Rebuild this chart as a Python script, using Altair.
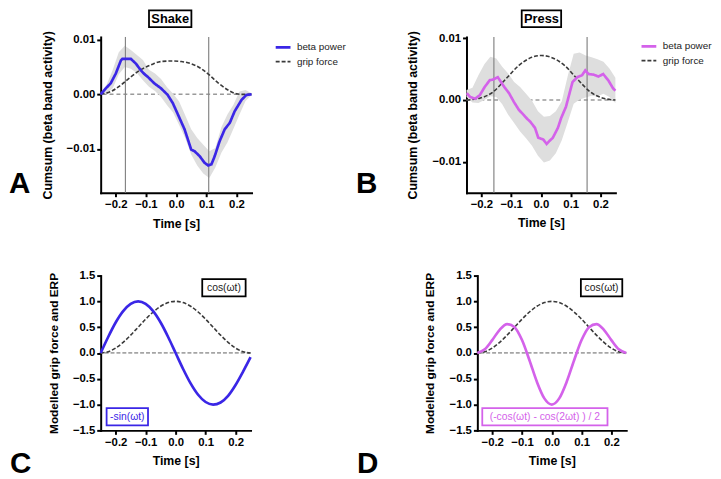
import altair as alt
import pandas as pd

FONT = "Liberation Sans"
BLUE = "#3a26e6"
PURPLE = "#d462ea"
BAND = "#dedede"
GRIP = "#3a3a3a"

# ---------------- Panel A (Shake) ----------------
a_beta_t = [-0.25, -0.233, -0.217, -0.2, -0.183, -0.178, -0.15, -0.133, -0.117, -0.105, -0.094,
            -0.072, -0.05, -0.028, -0.011, 0.011, 0.028, 0.05, 0.061, 0.078, 0.094, 0.106,
            0.117, 0.128, 0.144, 0.161, 0.178, 0.194, 0.217, 0.233, 0.25]
a_beta_v = [0.0, 0.0011, 0.002, 0.0038, 0.0062, 0.0065, 0.0065, 0.0056, 0.0044, 0.0037, 0.0032,
            0.002, 0.0011, -0.0001, -0.0016, -0.0043, -0.0064, -0.0101, -0.0104, -0.0113, -0.0125, -0.013,
            -0.0128, -0.0113, -0.0086, -0.0064, -0.0052, -0.0031, -0.001, -0.0001, 0.0]
a_grip_t = [-0.25, -0.217, -0.183, -0.15, -0.117, -0.083, -0.05, -0.017, 0.017, 0.05, 0.083,
            0.111, 0.139, 0.172, 0.2, 0.217, 0.25]
a_grip_v = [0.0, 0.0005, 0.0017, 0.0032, 0.0045, 0.0054, 0.006, 0.0061, 0.006, 0.0056, 0.0047,
            0.0035, 0.0021, 0.0008, 0.0001, 0.0, 0.0]
band_t = [-0.25, -0.23, -0.21, -0.19, -0.17, -0.15, -0.13, -0.11, -0.09, -0.07, -0.05, -0.03, -0.01,
          0.01, 0.03, 0.05, 0.07, 0.09, 0.11, 0.13, 0.15, 0.17, 0.19, 0.21, 0.23, 0.25]
a_band_hi = [0.0002, 0.0018, 0.0045, 0.0077, 0.0089, 0.0081, 0.0072, 0.0063, 0.0045, 0.0038, 0.0028,
             0.0013, 0.0001, -0.0013, -0.0038, -0.0064, -0.008, -0.0092, -0.0104, -0.0098, -0.006,
             -0.0037, -0.0019, 0.0005, 0.0008, 0.0002]
a_band_lo = [-0.0001, 0.0002, 0.0011, 0.0037, 0.005, 0.0047, 0.0039, 0.0026, 0.0014, 0.0006, -0.0005,
             -0.002, -0.0033, -0.0056, -0.008, -0.011, -0.013, -0.0145, -0.0153, -0.0134, -0.0107,
             -0.0088, -0.0063, -0.0037, -0.0012, -0.0001]
a_markers = [-0.168, 0.108]

# ---------------- Panel B (Press) ----------------
b_beta_t = [-0.249, -0.238, -0.221, -0.205, -0.189, -0.172, -0.161, -0.145, -0.134, -0.123, -0.107,
            -0.091, -0.074, -0.058, -0.047, -0.036, -0.02, -0.009, 0.008, 0.019, 0.029, 0.04, 0.057,
            0.068, 0.084, 0.106, 0.122, 0.138, 0.149, 0.16, 0.177, 0.193, 0.209, 0.226, 0.242, 0.25]
b_beta_v = [0.0011, 0.0005, 0.0002, 0.0008, 0.0021, 0.0032, 0.0033, 0.0037, 0.0029, 0.0021, 0.0011,
            -0.0003, -0.0016, -0.0024, -0.003, -0.0035, -0.0045, -0.0061, -0.0064, -0.0071, -0.0066,
            -0.0061, -0.0045, -0.0029, -0.0011, 0.0029, 0.0037, 0.004, 0.0048, 0.0042, 0.0041, 0.0038,
            0.0042, 0.0032, 0.0019, 0.0015]
b_grip_t = [-0.25, -0.205, -0.161, -0.118, -0.074, -0.031, 0.002, 0.035, 0.079, 0.122, 0.166, 0.209, 0.25]
b_grip_v = [0.0, 0.0003, 0.0013, 0.0034, 0.0056, 0.0069, 0.0072, 0.0069, 0.0056, 0.0034, 0.0013, 0.0003, 0.0]
b_band_hi = [0.0016, 0.002, 0.004, 0.0058, 0.007, 0.0067, 0.0054, 0.0043, 0.0029, 0.0021, 0.001,
             -0.0001, -0.0018, -0.0027, -0.0026, -0.0018, -0.0002, 0.0039, 0.0075, 0.0077, 0.0072,
             0.0069, 0.0066, 0.0062, 0.0051, 0.0036]
b_band_lo = [0.0005, -0.0004, -0.0005, 0.0, 0.0006, 0.0005, -0.0007, -0.0024, -0.0037, -0.0051, -0.0062,
             -0.0074, -0.009, -0.0101, -0.0098, -0.0086, -0.0065, -0.0036, -0.0006, 0.0001, 0.0004,
             0.0007, 0.0006, 0.001, 0.0005, -0.0005]
b_markers = [-0.158, 0.155]

# ---------------- Panels C and D (models) ----------------
model_t = [-0.25, -0.225, -0.2, -0.175, -0.15, -0.125, -0.1, -0.075, -0.05, -0.025, 0.0,
           0.025, 0.05, 0.075, 0.1, 0.125, 0.15, 0.175, 0.2, 0.225, 0.25]
model_grip = [0.0, 0.024, 0.095, 0.206, 0.345, 0.5, 0.655, 0.794, 0.905, 0.976, 1.0,
              0.976, 0.905, 0.794, 0.655, 0.5, 0.345, 0.206, 0.095, 0.024, 0.0]
c_erp = [0.0, 0.31, 0.59, 0.81, 0.95, 1.0, 0.95, 0.81, 0.59, 0.31, 0.0,
         -0.31, -0.59, -0.81, -0.95, -1.0, -0.96, -0.83, -0.62, -0.36, -0.08]
d_erp = [0.0, 0.071, 0.25, 0.449, 0.559, 0.5, 0.25, -0.14, -0.559, -0.88, -1.0,
         -0.88, -0.559, -0.14, 0.25, 0.5, 0.559, 0.449, 0.25, 0.071, 0.0]

zero_level = [0.0]
x_ticks = [-0.2, -0.1, 0.0, 0.1, 0.2]
one = pd.DataFrame({"k": [0]})


def x_enc(w, ty):
    return alt.X("t:Q", scale=alt.Scale(domain=[-0.25, 0.25], nice=False, zero=False),
                 axis=alt.Axis(values=x_ticks, format=".1f", title="Time [s]", labelFlush=False,
                               titleX=w / 2, titleY=ty, titleBaseline="middle", titleFontSize=12.5))


def y_enc(field, domain, ticks, fmt, title, tx, ty, tsize):
    return alt.Y(field, scale=alt.Scale(domain=domain, nice=False, zero=False),
                 axis=alt.Axis(values=ticks, format=fmt, title=title, titleX=tx, titleY=ty,
                               titleAngle=270, titleBaseline="middle", titleAlign="center",
                               titleFontSize=tsize, labelFlush=False))


def box(x1, x2, y1, y2, color):
    return alt.Chart(one).mark_rect(fill="white", stroke=color, strokeWidth=1.8).encode(
        x=alt.value(x1), x2=alt.value(x2), y=alt.value(y1), y2=alt.value(y2))


def label(txt, x, y, size, color="black", weight="bold", align="center", baseline="middle"):
    return alt.Chart(one).mark_text(text=txt, font=FONT, fontSize=size, fontWeight=weight,
                                    color=color, align=align, baseline=baseline).encode(
        x=alt.value(x), y=alt.value(y))


def data_panel(beta_t, beta_v, grip_t, grip_v, hi, lo, markers, color, domain, w, h,
               ytx, xty, title, tbx1, tbx2, letter, lx, lgx, lgy):
    X = x_enc(w, xty)
    Y = y_enc("v:Q", domain, [-0.01, 0.0, 0.01], ".2f", "Cumsum (beta band activity)", ytx, h / 2, 12.5)
    Ylo = y_enc("lo:Q", domain, [-0.01, 0.0, 0.01], ".2f", "Cumsum (beta band activity)", ytx, h / 2, 12.5)
    names = ["beta power", "grip force"]
    leg = alt.Legend(orient="none", legendX=lgx, legendY=lgy, title=None, labelFont=FONT,
                     labelFontSize=10, labelColor="#222", symbolType="stroke", symbolSize=225,
                     symbolStrokeWidth=2, labelOffset=5, rowPadding=0, padding=0)
    col = alt.Color("series:N", scale=alt.Scale(domain=names, range=[color, GRIP]), legend=leg)
    dash = alt.StrokeDash("series:N", scale=alt.Scale(domain=names, range=[[1, 0], [4, 2]]), legend=leg)
    sw = alt.StrokeWidth("series:N", scale=alt.Scale(domain=names, range=[2.7, 1.6]), legend=None)

    zero = alt.Chart(pd.DataFrame({"v": zero_level})).mark_rule(
        color="#9a9a9a", strokeDash=[4, 3], strokeWidth=1.5).encode(y=Y)
    band = alt.Chart(pd.DataFrame({"t": band_t, "lo": lo, "hi": hi})).mark_area(
        color=BAND, opacity=1).encode(x=X, y=Ylo, y2="hi:Q")
    marks = alt.Chart(pd.DataFrame({"t": markers})).mark_rule(
        color="#858585", strokeWidth=1.2).encode(x=X)
    grip = alt.Chart(pd.DataFrame({"t": grip_t, "v": grip_v, "series": "grip force"})).mark_line(
        interpolate="monotone").encode(x=X, y=Y, color=col, strokeDash=dash, strokeWidth=sw)
    beta = alt.Chart(pd.DataFrame({"t": beta_t, "v": beta_v, "series": "beta power"})).mark_line().encode(
        x=X, y=Y, color=col, strokeDash=dash, strokeWidth=sw)
    tb = box(tbx1, tbx2, -27, -10, "black")
    tt = label(title, (tbx1 + tbx2) / 2, -18.5, 13)
    lt = label(letter, lx, h, 30, align="left", baseline="alphabetic")
    return alt.layer(zero, band, marks, grip, beta, tb, tt, lt).properties(width=w, height=h)


def model_panel(erp, color, w, h, erp_text, ebx1, ebx2, cbx1, cbx2, letter, lx):
    X = x_enc(w, 30.5)
    Y = y_enc("v:Q", [-1.5, 1.5], [-1.5, -1.0, -0.5, 0.0, 0.5, 1.0, 1.5], ".1f",
              "Modelled grip force and ERP", -48, h / 2, 12)
    zero = alt.Chart(pd.DataFrame({"v": zero_level})).mark_rule(
        color="#a5a5a5", strokeDash=[4, 2], strokeWidth=1.8).encode(y=Y)
    grip = alt.Chart(pd.DataFrame({"t": model_t, "v": model_grip})).mark_line(
        interpolate="monotone", color=GRIP, strokeDash=[4, 2], strokeWidth=1.6).encode(x=X, y=Y)
    erp_line = alt.Chart(pd.DataFrame({"t": model_t, "v": erp})).mark_line(
        interpolate="monotone", color=color, strokeWidth=2.7).encode(x=X, y=Y)
    cb = box(cbx1, cbx2, 3.5, 21, "black")
    ct = label("cos(ωt)", (cbx1 + cbx2) / 2, 12.5, 10.5, color="#222", weight="normal")
    eb = box(ebx1, ebx2, 134.5, 152, color)
    et = label(erp_text, (ebx1 + ebx2) / 2, 143.5, 10.5, color=color, weight="normal")
    lt = label(letter, lx, 200, 30, align="left", baseline="alphabetic")
    return alt.layer(zero, grip, erp_line, cb, ct, eb, et, lt).properties(width=w, height=h)


A = data_panel(a_beta_t, a_beta_v, a_grip_t, a_grip_v, a_band_hi, a_band_lo, a_markers, BLUE,
               [-0.018, 0.0105], 153, 158, -53.5, 31.5, "Shake", 49, 92, "A", -93, 176, 1.5)
B = data_panel(b_beta_t, b_beta_v, b_grip_t, b_grip_v, b_band_hi, b_band_lo, b_markers, PURPLE,
               [-0.015, 0.0102], 151, 158, -55, 30, "Press", 56, 96, "B", -112, 176, 0.5)
C = model_panel(c_erp, BLUE, 152, 157, "-sin(ωt)", 6, 48, 103, 147, "C", -92)
D = model_panel(d_erp, PURPLE, 151, 157, "(-cos(ωt) - cos(2ωt) ) / 2", 5, 132, 105, 147, "D", -122)

top = alt.hconcat(A, B, spacing=218, bounds="flush").resolve_scale(
    color="independent", strokeDash="independent", strokeWidth="independent"
).resolve_legend(color="independent", strokeDash="independent")
bottom = alt.hconcat(C, D, spacing=230, bounds="flush")
chart = alt.vconcat(top, bottom, spacing=38).properties(
    padding={"left": 0, "top": -3, "right": 0, "bottom": 0}
).configure_axis(
    domainColor="black", domainWidth=2, domainCap="square", tickColor="black", tickWidth=2,
    tickSize=4, labelFont=FONT, labelFontSize=11.5, labelFontWeight="bold", labelColor="black",
    labelPadding=2, titleFont=FONT, titleFontWeight="bold", titleColor="black", grid=False
).configure_view(stroke="transparent")

chart.save("out.html", embed_options={"renderer": "svg", "actions": False})
